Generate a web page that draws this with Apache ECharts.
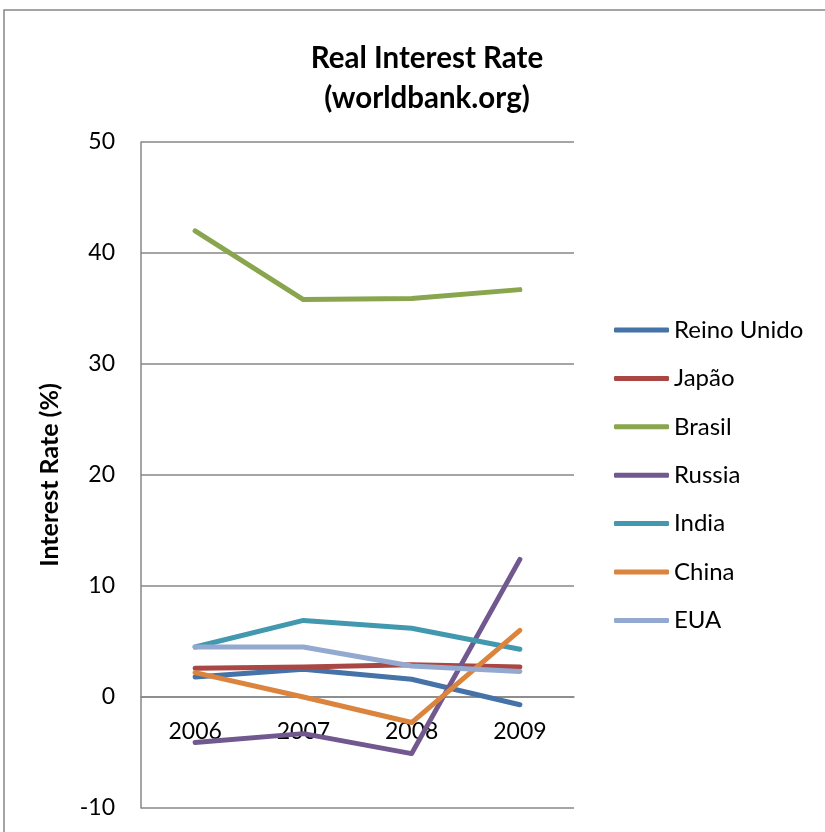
<!DOCTYPE html>
<html>
<head>
<meta charset="utf-8">
<script src="https://cdn.jsdelivr.net/npm/echarts@6/dist/echarts.min.js"></script>
<style>
  html, body { margin: 0; padding: 0; background: #fff; }
  #chart { width: 825px; height: 832px; }
</style>
</head>
<body>
<div id="chart"></div>
<script>
// Real interest rates by country, 2006-2009 (%)
const years = ['2006', '2007', '2008', '2009'];
const countryNames = ['Reino Unido', 'Japão', 'Brasil', 'Russia', 'India', 'China', 'EUA'];
const reinoUnido = [1.8, 2.5, 1.6, -0.7];
const japao = [2.6, 2.7, 2.9, 2.7];
const brasil = [42.0, 35.8, 35.9, 36.7];
const russia = [-4.1, -3.3, -5.1, 12.4];
const india = [4.5, 6.9, 6.2, 4.3];
const china = [2.2, 0.0, -2.3, 6.0];
const eua = [4.5, 4.5, 2.8, 2.3];
const yTicks = { min: -10, max: 50, interval: 10 };

const seriesValues = [reinoUnido, japao, brasil, russia, india, china, eua];
const palette = ['#4572A7', '#AA4643', '#89A54E', '#71588F', '#4198AF', '#DB843D', '#93A9CF'];
const fontFamily = 'Lato, "Open Sans", sans-serif';
const gray = '#878787';

const gridTop = 142;
const gridHeight = 666;
// the category axis sits on the zero line, so shift it up from the grid bottom
const zeroOffset = -gridHeight * (0 - yTicks.min) / (yTicks.max - yTicks.min);

const chart = echarts.init(document.getElementById('chart'), null, { renderer: 'canvas' });

chart.setOption({
  animation: false,
  backgroundColor: '#fff',
  color: palette,
  graphic: [{
    type: 'rect',
    shape: { x: 4, y: 10, width: 1000, height: 1000 },
    style: { fill: 'none', stroke: gray, lineWidth: 1.5 },
    silent: true,
    z: -10
  }],
  title: {
    text: 'Real Interest Rate\n(worldbank.org)',
    left: 427,
    top: 38,
    padding: 0,
    textAlign: 'center',
    textStyle: {
      fontFamily: fontFamily,
      fontWeight: 'bold',
      fontSize: 29.5,
      lineHeight: 40,
      color: '#000'
    }
  },
  legend: {
    orient: 'vertical',
    left: 614,
    top: 316,
    padding: 0,
    icon: 'roundRect',
    itemWidth: 55,
    itemHeight: 5,
    itemGap: 20.4,
    data: countryNames,
    textStyle: {
      fontFamily: fontFamily,
      fontSize: 24,
      lineHeight: 28,
      color: '#000',
      padding: [0, 0, 0, 0]
    }
  },
  grid: {
    left: 141,
    top: gridTop,
    width: 433,
    height: gridHeight,
    containLabel: false,
    outerBoundsMode: 'none'
  },
  xAxis: {
    type: 'category',
    data: years,
    boundaryGap: true,
    position: 'bottom',
    offset: zeroOffset,
    axisLine: { show: true, onZero: false, lineStyle: { color: gray, width: 1.5 } },
    axisTick: { show: false },
    axisLabel: {
      margin: 23,
      fontFamily: fontFamily,
      fontSize: 23,
      color: '#000'
    },
    splitLine: { show: false }
  },
  yAxis: {
    type: 'value',
    min: yTicks.min,
    max: yTicks.max,
    interval: yTicks.interval,
    name: 'Interest Rate (%)',
    nameLocation: 'middle',
    nameGap: 79,
    nameTextStyle: {
      fontFamily: fontFamily,
      fontWeight: 'bold',
      fontSize: 25,
      color: '#000'
    },
    axisLine: { show: true, lineStyle: { color: gray, width: 1.5 } },
    axisTick: { show: false },
    axisLabel: {
      margin: 26,
      fontFamily: fontFamily,
      fontSize: 23,
      color: '#000'
    },
    splitLine: { show: true, lineStyle: { color: gray, width: 1.5 } }
  },
  series: countryNames.map((name, i) => ({
    name: name,
    type: 'line',
    data: seriesValues[i],
    symbol: 'none',
    lineStyle: { width: 5, color: palette[i], cap: 'round', join: 'round' },
    itemStyle: { color: palette[i] }
  }))
});
</script>
</body>
</html>
